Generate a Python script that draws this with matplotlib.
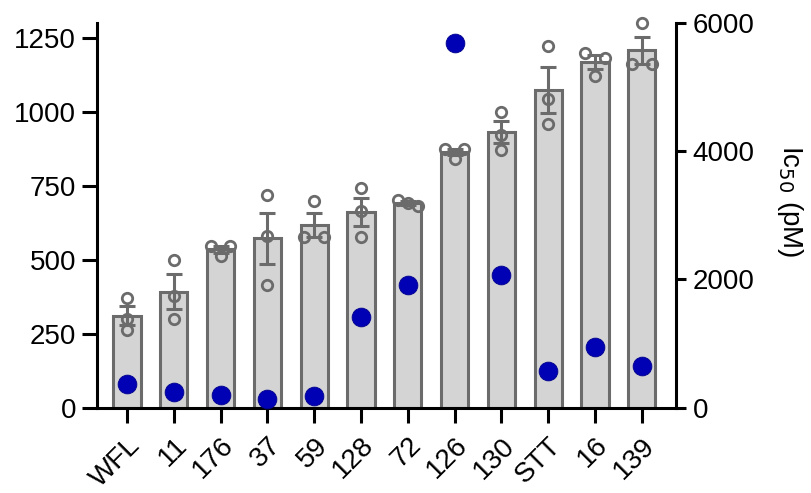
import numpy as np
import matplotlib
matplotlib.use("Agg")
import matplotlib.pyplot as plt

plt.rcParams['font.family'] = ['Liberation Sans', 'DejaVu Sans']

# compounds on the x axis
labels = ['WFL', '11', '176', '37', '59', '128', '72', '126', '130', 'STT', '16', '139']

# replicate values (left axis), three per compound
reps = [
    [370, 298, 262],
    [500, 376, 299],
    [545, 545, 512],
    [718, 580, 415],
    [698, 575, 575],
    [742, 664, 577],
    [680, 692, 700],
    [875, 875, 840],
    [1000, 920, 870],
    [1220, 1041, 959],
    [1199, 1182, 1120],
    [1299, 1160, 1160],
]

# IC50 values (right axis, pM)
ic50 = [362, 247, 195, 133, 179, 1417, 1911, 5691, 2062, 569, 939, 647]

left_ticks = [0, 250, 500, 750, 1000, 1250]
right_ticks = [0, 2000, 4000, 6000]

bar_edge = '#6b6b6b'
bar_fill = '#d4d4d4'
dot_blue = '#0000b4'


def row_offsets(vals, tol=25, half=0.21):
    # points close in value share a row and get spread symmetrically
    vals = np.asarray(vals, dtype=float)
    order = np.argsort(-vals)
    offs = np.zeros(len(vals))
    rows = []
    for i in order:
        if rows and abs(vals[rows[-1][0]] - vals[i]) < tol:
            rows[-1].append(i)
        else:
            rows.append([i])
    for r in rows:
        if len(r) > 1:
            for k, idx in enumerate(r):
                offs[idx] = np.linspace(-half, half, len(r))[k]
    return offs


x = np.arange(len(labels))
means = np.array([np.mean(r) for r in reps])
sems = np.array([np.std(r, ddof=1) / np.sqrt(len(r)) for r in reps])

fig = plt.figure(figsize=(8.11, 4.93), dpi=100)
ax = fig.add_axes([97 / 811, 85.5 / 493, 579 / 811, 384.8 / 493])

ax.bar(x, means, width=0.58, color=bar_fill, edgecolor=bar_edge, linewidth=2.2, zorder=2)
ax.errorbar(x, means, yerr=sems, fmt='none', ecolor=bar_edge, elinewidth=2.2,
            capsize=5.5, capthick=2.2, zorder=3)
for xi, r in zip(x, reps):
    ax.plot(xi + row_offsets(r), r, 'o', ms=7.5, mfc='none', mec=bar_edge, mew=2.0,
            zorder=4, clip_on=False)

ax.set_xlim(-0.64, 11.73)
ax.set_ylim(0, 1300)
ax.set_yticks(left_ticks)
ax.set_xticks(x)
ax.set_xticklabels(labels, rotation=45, ha='right', rotation_mode='anchor')
for s in ['top', 'right']:
    ax.spines[s].set_visible(False)
for s in ['left', 'bottom']:
    ax.spines[s].set_linewidth(2.2)
ax.tick_params(axis='both', labelsize=20, width=2.2, length=11, pad=4)
ax.tick_params(axis='x', pad=7)

ax2 = ax.twinx()
ax2.plot(x, ic50, 'o', ms=13.5, color=dot_blue, mec='#00008c', mew=0.6, zorder=5, clip_on=False)
ax2.set_ylim(0, 6000)
ax2.set_yticks(right_ticks)
for s in ['top', 'left', 'bottom']:
    ax2.spines[s].set_visible(False)
ax2.spines['right'].set_linewidth(2.2)
ax2.tick_params(axis='y', labelsize=20, width=2.2, length=7, pad=5)
ax2.set_ylabel('Ic$_{50}$ (pM)', fontsize=20, rotation=270, va='center', ha='center')
ax2.yaxis.set_label_coords(1.197, 0.537)

fig.savefig('out.png', dpi=100)
